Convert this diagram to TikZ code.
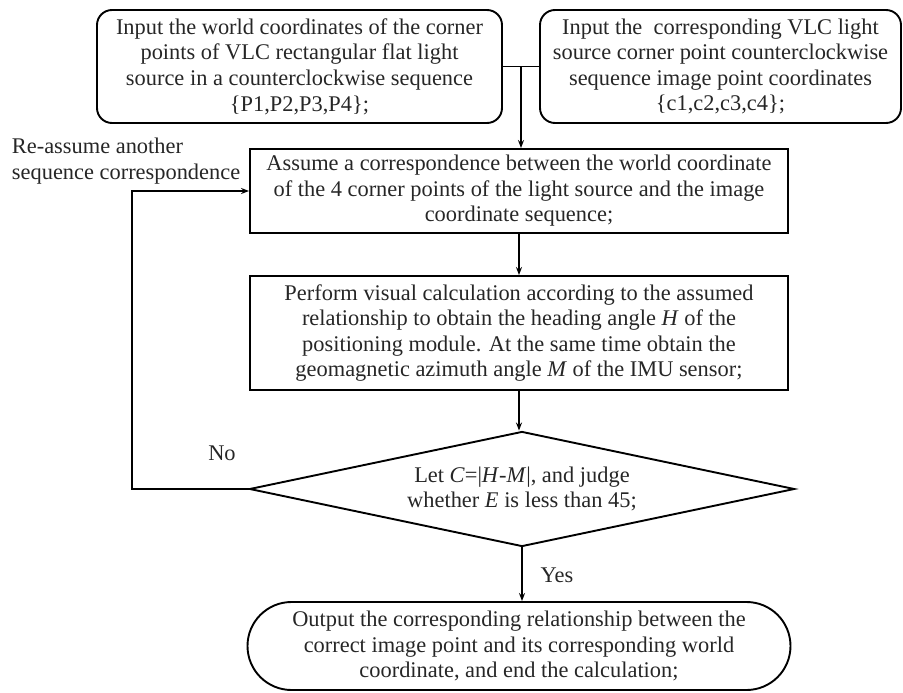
\documentclass[tikz,border=0pt]{standalone}
\usepackage{fontspec}
\setmainfont{Liberation Serif}
\usetikzlibrary{arrows.meta,shapes.geometric,shapes.misc}

\begin{document}
\begin{tikzpicture}[
  x=1pt, y=-1pt,
  every node/.style={font=\fontsize{22.4}{25.6}\selectfont, align=center, text=black!85, inner sep=0pt},
  inbox/.style={draw, rounded corners=15pt, minimum height=113pt},
  stepbox/.style={draw, minimum width=538pt},
  judge/.style={diamond, draw, aspect=4.7, minimum width=545pt, minimum height=115pt},
  endbox/.style={rounded rectangle, draw, minimum width=543pt, minimum height=88pt},
  flow/.style={-{Stealth[length=8pt,width=6pt]}},
  line width=1.9pt
]
  \useasboundingbox (0,0) rectangle (903,693);

  \node[inbox, minimum width=405pt] (pts) at (299.5,66.5)
    {Input the world coordinates of the corner\\points of VLC rectangular flat light\\source in a counterclockwise sequence\\\{P1,P2,P3,P4\};};
  \node[inbox, minimum width=361pt] (img) at (720.5,66.5)
    {Input the\ \ corresponding VLC light\\source corner point counterclockwise\\sequence image point coordinates\\\{c1,c2,c3,c4\};};
  \node[stepbox, minimum height=84pt] (assume) at (519,191)
    {Assume a correspondence between the world coordinate\\of the 4 corner points of the light source and the image\\coordinate sequence;};
  \node[stepbox, minimum height=114pt] (calc) at (519,333)
    {Perform visual calculation according to the assumed\\relationship to obtain the heading angle \textit{H} of the\\positioning module. At the same time obtain the\\geomagnetic azimuth angle \textit{M} of the IMU sensor;};
  \node[judge] (judge) at (522,489)
    {Let \textit{C}=|\textit{H}-\textit{M}|, and judge\\whether \textit{E} is less than 45;};
  \node[endbox] (out) at (519,646)
    {Output the corresponding relationship between the\\correct image point and its corresponding world\\coordinate, and end the calculation;};

  \node[align=left, anchor=north west] (reassume) at (11,137)
    {Re-assume another\\sequence correspondence};
  \node (no) at (222,453) {No};
  \node (yes) at (557,575) {Yes};

  \draw (pts.east) -- coordinate[midway] (join) (img.west);
  \draw[flow] (join) -- (join |- assume.north);
  \draw[flow] (assume) -- (calc);
  \draw[flow] (calc) -- (calc.south |- judge.north);
  \draw[flow] (judge.west) -- ++(-117,0) |- (assume.west);
  \draw[flow] (judge.south) -- (judge.south |- out.north);
\end{tikzpicture}
\end{document}
